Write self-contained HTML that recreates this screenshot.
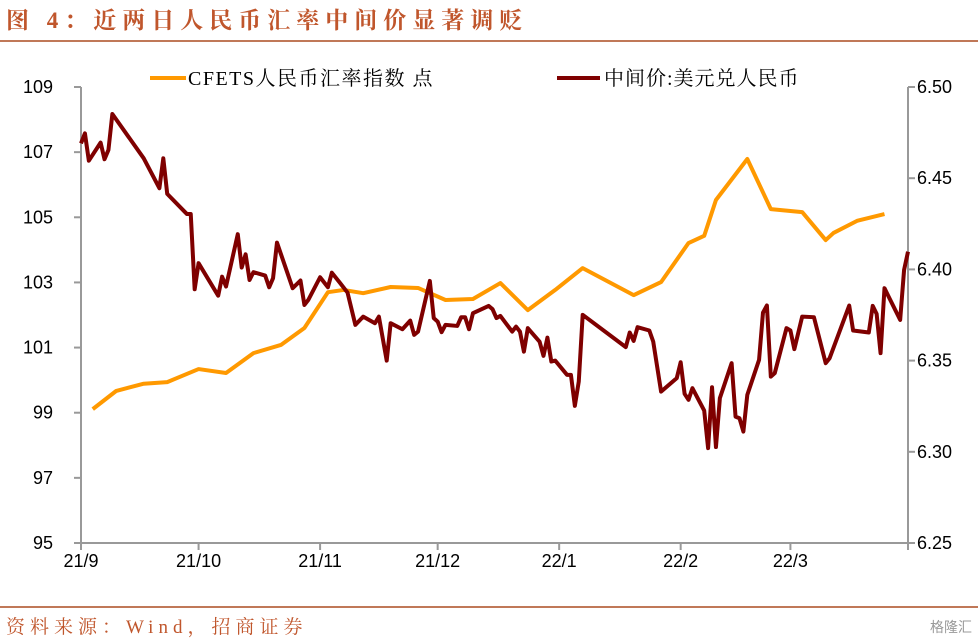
<!DOCTYPE html>
<html><head><meta charset="utf-8">
<style>
body{margin:0;background:#fff;width:978px;height:642px;overflow:hidden;font-family:"Liberation Sans","Noto Sans CJK SC",sans-serif;}
.title{position:absolute;left:6px;top:2px;font-family:"Liberation Serif","Noto Serif CJK SC",serif;font-weight:bold;font-size:23px;color:#c0562c;letter-spacing:6px;}
.rule{position:absolute;left:0;width:978px;height:2px;background:#c07858;}
.src{position:absolute;left:6px;top:612px;font-family:"Liberation Serif","Noto Serif CJK SC",serif;font-size:19px;color:#c0562c;letter-spacing:5px;}
.wm{position:absolute;right:6px;top:617px;font-size:14px;color:#999;}
</style></head><body>
<div class="title">图 4：近两日人民币汇率中间价显著调贬</div>
<div class="rule" style="top:40px"></div>
<div class="rule" style="top:606px"></div>
<div class="src">资料来源：Wind，招商证券</div>
<div class="wm">格隆汇</div>
<svg id="chart" width="978" height="642" style="position:absolute;left:0;top:0"></svg>
<script>
// days since 2021-09-01
const cfetsDays=[3,9,16,22,30,37,44,51,57,63,67,72,79,86,93,100,107,114,121,128,141,148,155,159,162,170,176,184,190,192,198,205];
const cfetsValues=[99.11,99.67,99.89,99.94,100.34,100.22,100.83,101.08,101.6,102.7,102.77,102.67,102.86,102.83,102.46,102.49,102.98,102.15,102.77,103.44,102.61,103.01,104.21,104.43,105.53,106.79,105.25,105.16,104.30,104.52,104.89,105.10];
const cnyDays=[0,1,2,5,6,7,8,16,20,21,22,27,28,29,30,35,36,37,40,41,42,43,44,47,48,49,50,54,56,57,58,61,63,64,66,68,70,72,75,76,78,79,82,84,85,86,89,90,91,92,93,96,97,98,99,100,104,105,106,107,110,111,112,113,114,117,118,119,120,121,124,125,126,127,128,139,140,141,142,145,146,148,152,153,154,155,156,159,160,161,162,163,166,167,168,169,170,173,174,175,176,177,180,181,182,184,187,190,191,196,197,201,202,203,204,205,209,210,211];
const cnyValues=[6.4691,6.4746,6.4596,6.4695,6.4604,6.4655,6.4852,6.4609,6.4445,6.4609,6.4414,6.4304,6.4304,6.3891,6.4034,6.3856,6.3960,6.3906,6.4193,6.4010,6.4083,6.3942,6.3985,6.3966,6.3902,6.3952,6.4147,6.3897,6.3939,6.3805,6.3833,6.3957,6.3902,6.3982,6.3928,6.3873,6.3696,6.3741,6.3705,6.3741,6.3500,6.3705,6.3672,6.3719,6.3641,6.3659,6.3937,6.3733,6.3714,6.3656,6.3696,6.3690,6.3738,6.3738,6.3672,6.3760,6.3800,6.3782,6.3733,6.3745,6.3659,6.3686,6.3659,6.3549,6.3678,6.3604,6.3526,6.3626,6.3495,6.3500,6.3422,6.3422,6.3252,6.3385,6.3751,6.3574,6.3654,6.3608,6.3683,6.3665,6.3604,6.3330,6.3404,6.3491,6.3318,6.3285,6.3349,6.3226,6.3020,6.3354,6.3026,6.3294,6.3486,6.3193,6.3184,6.3111,6.3312,6.3504,6.3763,6.3802,6.3412,6.3431,6.3678,6.3665,6.3563,6.3741,6.3738,6.3486,6.3513,6.3802,6.3665,6.3654,6.3800,6.3756,6.3541,6.3897,6.3723,6.3997,6.4097];
const xTickLabels=["21/9","21/10","21/11","21/12","22/1","22/2","22/3"];
const xTickDays=[0,30,61,91,122,153,181];
const leftTicks=[95,97,99,101,103,105,107,109];
const rightTicks=["6.25","6.30","6.35","6.40","6.45","6.50"];

const svg=document.getElementById('chart');
const NS='http://www.w3.org/2000/svg';
const L=81,R=908,T=87,B=543,DMAX=211;
const x=d=>L+d*(R-L)/DMAX;
const yL=v=>B-(v-95)*(B-T)/14;
const yR=v=>B-(v-6.25)*(B-T)/0.25;
function mk(tag,attrs,parent){const e=document.createElementNS(NS,tag);for(const k in attrs)e.setAttribute(k,attrs[k]);(parent||svg).appendChild(e);return e;}
const axc='#999';
let e;
e=mk('line',{x1:L,y1:T,x2:L,y2:B,stroke:axc,'stroke-width':2});


e=mk('line',{x1:R,y1:T,x2:R,y2:B,stroke:axc,'stroke-width':2});


e=mk('line',{x1:L,y1:B,x2:R,y2:B,stroke:axc,'stroke-width':2});


leftTicks.forEach(v=>{
  mk('line',{x1:L-7,y1:yL(v),x2:L,y2:yL(v),stroke:axc,'stroke-width':2});
  e=mk('text',{x:L-28,y:yL(v)+6,'text-anchor':'end','font-size':18,fill:'#000'});
  e.textContent=v;
  
  
});
rightTicks.forEach(s=>{
  const v=parseFloat(s);
  mk('line',{x1:R,y1:yR(v),x2:R+7,y2:yR(v),stroke:axc,'stroke-width':2});
  e=mk('text',{x:R+9,y:yR(v)+6,'font-size':18,fill:'#000'});
  e.textContent=s;
  
  
});
xTickDays.forEach((d,i)=>{
  mk('line',{x1:x(d),y1:B,x2:x(d),y2:B+7,stroke:axc,'stroke-width':2});
  e=mk('text',{x:x(d),y:B+24,'text-anchor':'middle','font-size':18,fill:'#000'});
  e.textContent=xTickLabels[i];
  
  
});
mk('line',{x1:R,y1:B,x2:R,y2:B+7,stroke:axc,'stroke-width':2});
e=mk('polyline',{points:cfetsDays.map((d,i)=>x(d)+','+yL(cfetsValues[i])).join(' '),fill:'none',stroke:'#ff9900','stroke-width':4,'stroke-linejoin':'round'});


e=mk('polyline',{points:cnyDays.map((d,i)=>x(d)+','+yR(cnyValues[i])).join(' '),fill:'none',stroke:'#7f0000','stroke-width':4,'stroke-linejoin':'round'});


// legend
const lf='"Liberation Serif","Noto Serif CJK SC",serif';
mk('line',{x1:150,y1:78,x2:186,y2:78,stroke:'#ff9900','stroke-width':4});
e=mk('text',{x:188,y:85,'font-size':20,fill:'#000','font-family':lf,'letter-spacing':1.5});
e.textContent='CFETS人民币汇率指数  点';


mk('line',{x1:557,y1:78,x2:600,y2:78,stroke:'#7f0000','stroke-width':4});
e=mk('text',{x:604,y:85,'font-size':20,fill:'#000','font-family':lf,'letter-spacing':1});
e.textContent='中间价:美元兑人民币';


</script>
</body></html>
